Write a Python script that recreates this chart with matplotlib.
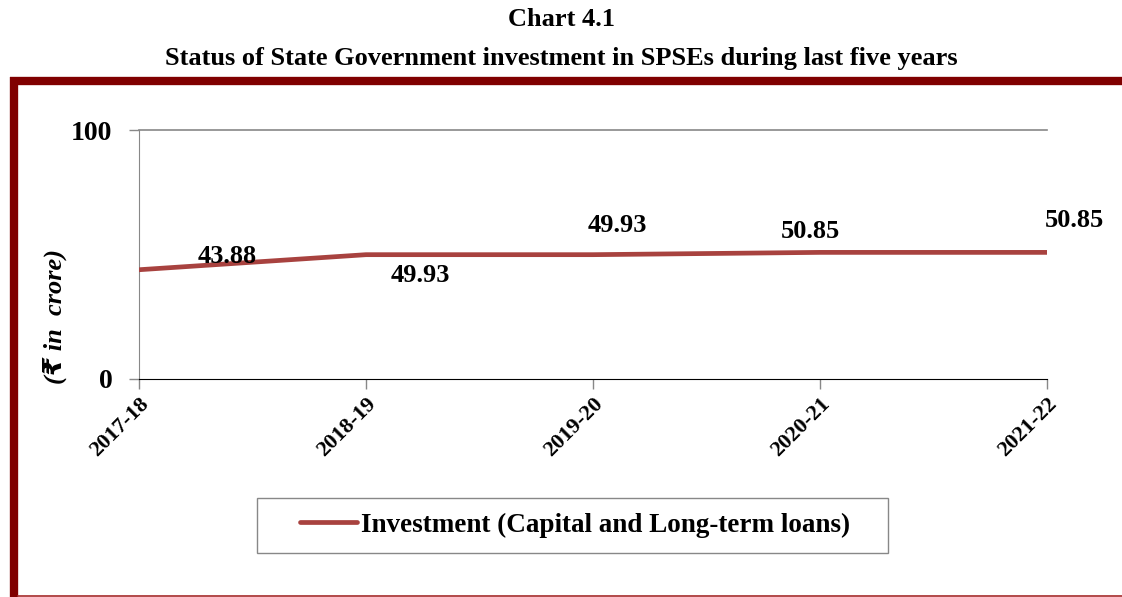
import matplotlib
matplotlib.use("Agg")
import matplotlib.pyplot as plt
from matplotlib.lines import Line2D
from matplotlib.patches import Rectangle

years = ["2017-18", "2018-19", "2019-20", "2020-21", "2021-22"]
investment = [43.88, 49.93, 49.93, 50.85, 50.85]
series_name = "Investment (Capital and Long-term loans)"

serif = ["Liberation Serif", "DejaVu Serif"]
W, H = 1122, 597
fig = plt.figure(figsize=(W / 100, H / 100), dpi=100)

def fx(px):
    return px / W

def fy(py):
    return 1 - py / H

# Frame
fig.add_artist(Line2D([fx(10), 1.0], [fy(81), fy(81)], color="#800000", lw=6, transform=fig.transFigure, solid_capstyle="butt"))
fig.add_artist(Line2D([fx(14), fx(14)], [fy(77), 0], color="#800000", lw=6, transform=fig.transFigure, solid_capstyle="butt"))
fig.add_artist(Line2D([fx(18), 1.0], [fy(596), fy(596)], color="#A52A2A", lw=1.2, transform=fig.transFigure))

fig.text(0.5, fy(20), "Chart 4.1", ha="center", va="center", fontsize=19, fontweight="bold", family=serif)
fig.text(0.5, fy(58), "Status of State Government investment in SPSEs during last five years",
         ha="center", va="center", fontsize=19, fontweight="bold", family=serif)

ax = fig.add_axes([fx(139), fy(379), (1047 - 139) / W, (379 - 130) / H])
x = list(range(len(years)))
line, = ax.plot(x, investment, color="#A8423F", lw=3.4, solid_capstyle="round", zorder=3)
ax.set_xlim(0, len(years) - 1)
ax.set_ylim(0, 100)
ax.set_yticks([0, 100])
ax.set_yticklabels(["0", "100"], fontsize=20, fontweight="bold", family=serif)
ax.set_xticks(x)
ax.set_xticklabels(years, rotation=45, ha="right", rotation_mode="anchor", fontsize=16, fontweight="bold", family=serif)
ax.tick_params(axis="both", colors="#888888", labelcolor="black", length=7, width=1)
ax.tick_params(axis="y", pad=12)
ax.tick_params(axis="x", pad=4)
for s in ["top", "right"]:
    ax.spines[s].set_visible(False)
ax.spines["left"].set_color("#888888")
ax.spines["bottom"].set_color("black")
ax.axhline(100, color="#888888", lw=1.2, clip_on=False)
ax.set_facecolor("none")

offsets = [(0.39, 5.5), (0.24, -8.5), (0.105, 11.9), (-0.044, 8.2), (0.123, 13.0)]
for xi, v, (dx, dy) in zip(x, investment, offsets):
    ax.text(xi + dx, v + dy, f"{v:.2f}", ha="center", va="center", fontsize=19, fontweight="bold",
            family=serif, clip_on=False, zorder=4)

fig.text(fx(55), fy(316), "(₹ in  crore)", rotation=90, ha="center", va="center", fontsize=19,
         fontweight="bold", fontstyle="italic", family=["Liberation Serif", "DejaVu Sans"])

# Legend
fig.add_artist(Rectangle((fx(257), fy(553)), fx(888) - fx(257), fy(498) - fy(553), transform=fig.transFigure,
                         facecolor="white", edgecolor="#888888", lw=1.0))
leg = fig.legend([line], [series_name], loc="center left", bbox_to_anchor=(fx(300), fy(525)),
                 prop={"family": serif, "weight": "bold", "size": 19.5}, frameon=False,
                 handlelength=2.1, handletextpad=0.15, borderpad=0, borderaxespad=0)

fig.savefig("out.png", dpi=100)
